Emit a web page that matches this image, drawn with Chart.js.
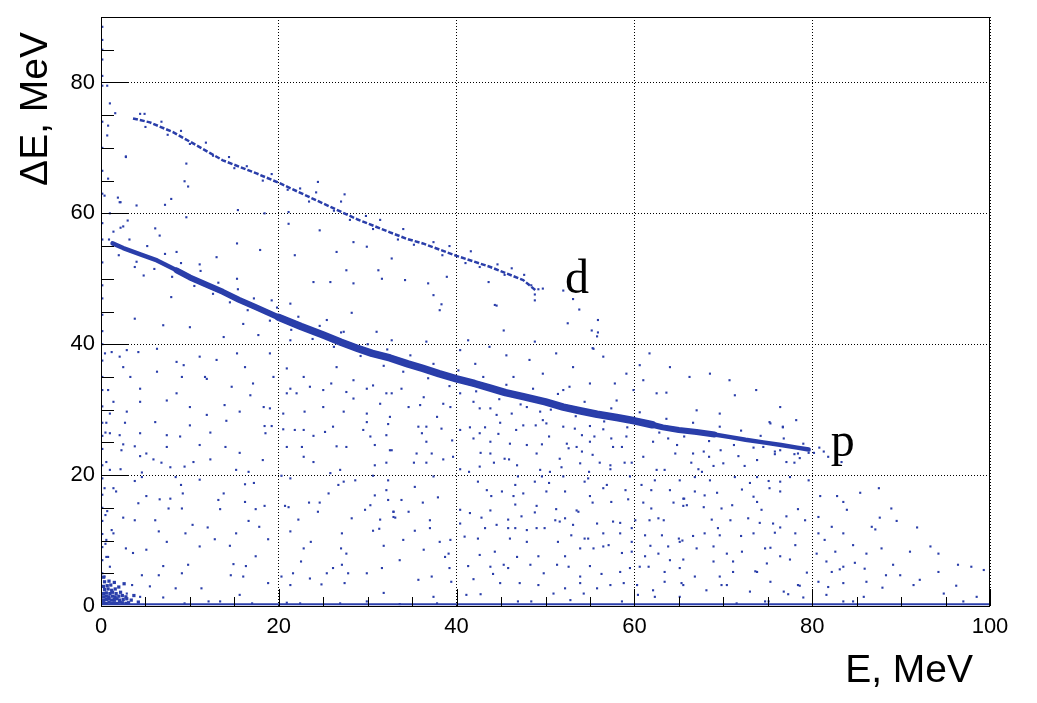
<!DOCTYPE html>
<html>
<head>
<meta charset="utf-8">
<script src="https://cdn.jsdelivr.net/npm/chart.js@4.4.1/dist/chart.umd.min.js"></script>
<style>
  html, body { margin: 0; padding: 0; background: #fff; }
</style>
</head>
<body>
<canvas id="chart" width="1037" height="703"></canvas>
<script>
// ΔE-E identification plot (ROOT style)

const xTicks = [0, 20, 40, 60, 80, 100];
const yTicks = [0, 20, 40, 60, 80];

// proton band centre line
const pBandE  = [1.3, 2.5, 4.5, 6.3, 8.5, 10, 12, 13.7, 15.5, 17.5, 20, 22.5, 25, 27, 28.8, 30.5, 32.5, 34.5, 36.2, 38, 40, 42, 43.8, 45.5, 47.5, 50, 52, 54, 55.8, 58, 60, 62, 63.2, 65, 67, 69, 70.8, 72.5, 74.5, 76.5, 78.3, 79.6];
const pBandDE = [55.4, 54.7, 53.7, 52.8, 51.3, 50.2, 49.0, 48.0, 46.8, 45.6, 44.1, 42.7, 41.4, 40.3, 39.4, 38.6, 37.9, 37.0, 36.3, 35.5, 34.7, 34.0, 33.3, 32.6, 32.0, 31.2, 30.4, 29.8, 29.3, 28.8, 28.3, 27.7, 27.3, 26.9, 26.6, 26.2, 25.8, 25.4, 25.0, 24.6, 24.2, 23.9];

// deuteron band centre line
const dBandE  = [3.6, 5.5, 8.1, 11, 13.7, 17.5, 20.1, 25, 28.8, 32.5, 34.4, 36.2, 40, 43.8, 47.5, 49];
const dBandDE = [74.5, 73.9, 72.4, 70.2, 68.1, 66.1, 64.6, 61.5, 59.1, 57.1, 56.1, 55.4, 53.5, 51.8, 49.8, 48.1];

// row of counts at ΔE ~ 0
const baseRowE  = [0, 100];
const baseRowDE = [0.25, 0.25];

// single bins around the bands
const pFringe = [[1.4,57.2],[0.9,56.0],[2.2,57.8],[2.0,53.6],[3.2,56.0],[4.0,52.6],[5.2,55.0],[6.0,51.5],[7.2,53.8],[8.0,50.3],[9.0,52.4],[10.5,48.9],[11.2,51.2],[12.6,47.7],[13.2,49.4],[14.5,46.4],[15.4,48.4],[16.5,45.2],[17.2,47.0],[19.0,43.6],[19.8,45.6],[21.4,42.2],[22.2,44.2],[23.8,40.8],[24.6,42.8],[26.2,39.6],[27.0,41.8],[29.2,38.2],[30.0,40.0],[31.8,36.7],[32.2,39.2],[34.0,35.8],[34.8,38.3],[36.8,34.8],[37.4,37.0],[39.2,33.6],[40.2,36.0],[42.2,32.8],[43.0,35.0],[44.8,31.6],[45.6,33.8],[47.2,30.8],[48.6,33.2],[50.6,30.0],[51.4,32.4],[53.4,29.0],[54.4,31.2],[56.6,28.2],[57.4,30.2],[59.2,27.3],[60.6,29.6],[62.8,26.5],[63.6,28.6],[65.6,25.9],[66.6,28.0],[68.4,25.2],[69.6,27.4],[71.2,24.6],[72.0,26.8],[73.4,24.2],[74.2,26.0],[75.8,23.6],[76.8,25.6],[78.0,23.2],[79.0,24.8],[80.2,23.4],[80.8,24.2],[81.3,23.6],[78.6,22.6],
  [66.6,23.3],[67.8,23.6],[68.4,22.8],[69.7,23.8],[71.7,22.9],[75.8,23.2],[76.4,23.8],[77.1,22.0],[78.0,21.9],[78.4,23.3],[79.6,23.4],[74.5,24.3]];

const dFringe = [[4.4,75.2],[5.0,73.2],[6.8,74.0],[7.5,72.0],[9.0,72.6],[10.0,70.6],[11.8,70.8],[12.6,68.8],[14.4,68.6],[15.0,66.9],[16.4,67.2],[18.2,65.0],[19.2,66.0],[21.0,63.6],[22.4,63.8],[23.4,61.8],[24.2,63.2],[26.2,60.4],[27.0,61.8],[28.0,59.0],[29.8,59.6],[30.6,57.6],[31.4,59.0],[33.4,56.0],[34.0,57.6],[35.2,55.2],[37.4,55.6],[38.4,53.6],[39.2,55.0],[41.0,52.4],[41.6,54.2],[42.6,51.8],[44.6,52.2],[45.4,50.6],[46.2,51.6],[47.6,50.6],[48.4,49.0],[48.8,47.6],[49.2,48.4]];

// background bins, ΔE above 40
const noiseHigh = [[4.9,75.2],[2.8,68.6],[9.6,67.6],[9.4,64.9],[9.8,64.1],[7.9,62.2],[7.2,61.3],[4.0,61.2],[2.2,61.7],[9.6,59.4],[15.4,60.5],[18.4,60.0],[21.1,60.2],[24.4,64.8],[27.4,62.9],[24.6,57.4],[38.9,50.3],[44.3,46.0],[38.3,46.1],[28.2,44.8],[8.5,54.1],[36.8,49.3],[43.6,49.5],[48.8,46.7],
  [2.5,58.0],[6.1,57.7],[6.6,56.6],[15.3,55.4],[17.9,54.4],[21.1,58.4],[28.4,55.6],[29.9,54.9],[26.5,54.1],[21.8,53.6],[27.6,51.3],[25.8,49.5],[31.2,51.3],[31.6,50.0],[32.7,53.1],[34.2,49.8],[37.4,47.5],[38.1,45.2],[44.5,45.9],[28.4,49.3],[23.9,49.5],[21.3,46.2],[19.2,46.7],[15.3,50.0],[13.0,53.3],[11.1,52.2],[3.8,51.8],[4.8,50.5],[7.9,47.2],[3.8,43.9],[7.0,42.9],[10.0,42.6],[13.8,41.1],[16.0,43.1],[17.7,41.4],[21.3,40.6],[23.1,42.1],[25.4,43.7],[27.3,41.9],[31.0,41.9],[32.7,40.6],[36.6,40.4],[41.3,40.6],[45.3,42.1],[48.8,40.4],
  [49.7,48.5],[52.0,48.2],[53.1,46.9],[53.8,45.3],[52.5,43.2],[55.9,43.7],[55.2,42.1],[55.9,41.8],[55.8,41.2],[55.3,39.4]];

// background bins, ΔE 28..40
const noiseMid = [[1.2,38.8],[2.9,39.1],[6.3,39.3],[9.3,36.8],[11.9,34.7],[16.2,36.5],[16.8,32.2],[19.0,38.6],[19.4,35.0],[20.9,36.3],[22.8,35.0],[25.0,33.0],[26.5,36.5],[28.4,34.5],[30.6,33.7],[25.0,30.4],[22.9,29.7],[20.9,32.5],[19.0,30.2],[13.9,30.7],[8.5,32.5],[4.4,31.2],[3.3,35.0],[0.8,33.0],[1.0,29.4],[28.4,31.7],[31.4,30.9],[32.7,32.5],[34.6,30.4],[36.3,31.9],[38.5,30.9],[40.4,32.5],[42.6,30.2],[44.5,29.2],[37.8,28.9],[32.5,28.9],[49.4,29.7],
  [0.45,38.6],[2.1,38.1],[4.2,38.8],[8.5,37.3],[11.1,38.1],[13.0,37.6],[15.3,38.6],[2.5,36.5],[6.3,35.8],[9.1,35.0],[11.7,35.0],[14.7,33.5],[17.1,34.0],[21.3,33.2],[22.0,32.5],[23.5,33.5],[25.9,34.0],[27.6,32.7],[29.9,33.2],[32.1,32.5],[33.8,33.2],[35.9,30.7],[39.3,30.4],[41.9,31.2],[43.8,30.2],[46.2,29.4],[47.9,30.4],[4.4,33.2],[7.4,31.4],[10.0,30.4],[11.9,29.2],[15.6,29.7],[18.3,30.4],[20.5,29.4],[27.3,29.7],[29.9,29.4],[1.4,31.2],[2.9,29.7],
  [60.6,36.8],[62.5,32.5],[63.6,32.6],[68.5,35.5],[71.3,32.2],[75.2,28.1],[76.7,27.3],[57.8,34.0],[59.9,33.0],[59.1,35.5],[53.1,36.5],[49.7,35.5],[43.7,39.6],[42.1,37.0],[55.4,39.3],[52.0,33.0],[49.7,28.4],
  [40.4,39.1],[45.6,38.3],[48.2,37.6],[51.2,38.6],[56.5,38.1],[61.7,38.6],[64.0,36.5],[66.2,35.0],[70.7,34.5],[73.7,33.0],[76.4,30.4],[78.2,28.4],[61.0,34.5],[58.0,31.4],[55.0,34.0],[52.7,33.5],[46.4,35.0],[69.6,29.4],[67.0,29.9]];

// background bins, ΔE below 28, E 0..33
const noiseLowLeft = [[0.6,28.0],[2.7,28.0],[6.1,28.1],[10.0,27.6],[14.1,28.3],[18.4,27.5],[19.2,27.5],[20.5,27.0],[21.8,26.9],[22.8,26.9],[26.1,27.4],[29.9,28.1],[32.3,27.8],[1.0,26.4],[2.1,26.1],[4.4,26.4],[7.4,26.1],[8.9,25.9],[12.3,26.5],[18.5,26.4],[23.9,26.0],[25.2,26.6],[29.5,26.9],[30.3,25.9],[32.1,26.1],
  [2.5,24.7],[3.8,24.4],[7.4,24.3],[11.1,24.6],[14.0,24.3],[20.9,24.3],[22.6,24.3],[26.5,24.4],[27.6,24.3],[30.8,24.6],[32.5,23.8],[2.3,23.8],[4.4,22.9],[5.1,23.3],[5.9,22.4],[6.8,21.9],[9.4,21.3],[10.4,22.0],[12.3,22.4],[15.6,23.4],[18.2,22.3],[22.8,22.8],[23.9,22.0],[26.9,20.8],[30.8,21.5],[32.1,21.9],[1.0,20.8],[2.2,20.9],[4.6,20.4],[7.8,21.2],[15.2,20.8],[16.6,20.5],[20.3,19.9],[25.8,20.3],[30.6,19.9],
  [4.6,19.7],[8.4,19.7],[11.1,19.3],[16.2,18.6],[17.2,18.8],[21.3,19.5],[27.3,19.0],[28.6,19.2],[32.3,19.2],[1.4,18.0],[3.8,19.1],[9.0,18.5],[26.7,18.5],[32.1,17.7],[1.7,17.5],[5.1,16.8],[6.6,16.3],[7.8,16.4],[9.2,17.2],[13.2,16.2],[13.8,17.2],[16.2,15.9],[20.7,15.3],[23.4,15.8],[24.6,15.8],[25.6,17.2],[30.3,15.4],[30.8,16.9],[32.3,16.2],[32.9,14.4],
  [4.2,15.7],[7.6,14.9],[9.1,14.9],[13.4,14.8],[17.4,14.8],[18.4,15.3],[21.1,15.1],[24.4,14.4],[29.7,14.7],[32.9,13.6],[0.5,13.9],[2.5,13.5],[3.8,13.1],[6.1,13.1],[10.3,12.4],[12.0,12.0],[16.6,13.0],[17.8,12.1],[22.2,13.2],[28.2,13.4],[31.4,13.2],[1.2,11.6],[1.4,11.1],[6.5,11.4],[9.5,11.1],[12.8,10.2],[15.2,11.1],[18.8,10.2],[21.3,11.4],[23.6,9.8],[27.1,11.1],[30.6,11.5],[31.3,11.8],
  [0.6,10.1],[2.8,8.8],[5.1,8.6],[7.4,9.8],[11.1,9.1],[14.5,9.2],[17.4,7.6],[22.8,8.8],[27.0,8.8],[27.6,8.0],[31.8,9.2],[0.6,7.5],[3.6,8.1],[7.0,6.1],[9.8,6.3],[14.9,6.4],[16.3,6.1],[22.5,6.8],[26.1,5.8],[27.1,6.3],[31.6,5.8],[1.0,6.0],[4.6,4.7],[6.5,4.7],[9.1,5.0],[14.6,4.7],[16.0,4.5],[20.3,4.5],[21.6,5.0],[23.5,4.2],[25.4,5.0],[27.8,5.0],[29.9,5.0],
  [3.5,3.2],[5.5,3.0],[8.4,2.7],[11.3,2.7],[15.6,1.7],[18.8,3.5],[21.3,3.2],[24.8,3.3],[27.4,3.5],[31.8,2.0],[2.9,1.9],[4.4,1.4],[7.0,1.3],[9.4,0.4],[12.1,0.7],[13.4,0.7],[17.0,0.4],[20.9,0.5],[22.4,0.4],[26.9,0.4],[29.9,0.7]];

// background bins, ΔE below 28, E 33..66
const noiseLowCentre = [[35.7,27.4],[36.6,27.4],[38.3,27.1],[40.4,26.9],[41.5,27.3],[43.2,27.3],[44.9,28.0],[46.7,26.9],[47.5,27.6],[48.9,27.6],[50.1,27.9],[52.0,27.4],[53.3,27.1],[55.0,27.5],[56.5,27.0],[36.1,26.4],[42.6,26.4],[44.7,26.3],[50.4,25.9],[54.1,26.1],[55.5,25.9],[57.4,25.6],[59.1,25.9],
  [36.6,25.1],[39.5,25.3],[41.9,25.6],[43.8,25.1],[46.0,24.8],[47.9,24.6],[49.6,24.7],[52.4,24.8],[53.5,24.3],[55.0,25.1],[57.6,24.3],[58.6,24.3],[62.1,25.1],[63.8,25.6],[64.8,24.6],[32.7,23.8],[35.5,23.3],[37.2,23.3],[39.6,22.8],[42.7,23.4],[43.8,23.3],[45.4,22.5],[49.0,23.3],[51.6,22.5],[52.6,24.1],[54.1,23.6],[55.3,23.1],[56.1,21.9],[57.3,21.5],[58.9,21.9],[59.7,21.9],[61.0,22.8],[62.5,20.8],[63.4,20.8],[64.6,23.3],
  [35.2,21.9],[36.6,21.9],[38.5,22.4],[40.4,20.9],[41.4,20.5],[42.6,21.3],[44.2,21.9],[45.9,22.4],[46.8,21.5],[49.4,20.8],[50.5,20.5],[51.8,21.2],[53.9,21.8],[54.9,20.5],[57.3,20.9],
  [37.4,19.8],[46.9,19.8],[49.6,19.8],[52.0,19.8],[54.8,19.5],[59.5,19.8],[62.3,19.2],[65.1,19.2],[35.3,18.2],[42.4,19.0],[46.6,18.5],[48.8,19.0],[50.4,18.8],[54.4,19.0],[56.9,18.5],[60.8,18.5],[43.4,17.7],[45.1,17.5],[46.4,16.8],[47.5,17.2],[50.1,17.5],[52.2,17.5],[55.0,16.8],[56.5,18.0],[59.0,17.7],[61.9,17.7],[64.0,17.7],[65.5,16.4],
  [33.8,16.2],[36.2,15.8],[37.9,16.6],[43.9,16.8],[46.6,15.5],[49.0,15.3],[51.2,14.8],[53.5,14.6],[55.3,15.8],[57.4,15.9],[59.3,16.3],[61.0,15.8],[61.9,14.9],[64.4,15.8],[65.9,15.4],[32.9,14.4],[34.6,14.4],[37.0,13.1],[40.4,14.7],[41.5,14.2],[42.8,13.5],[43.8,14.6],[45.8,13.2],[47.3,13.7],[48.8,14.3],[51.1,13.1],[52.2,13.4],[53.7,14.4],[55.8,12.6],[57.6,12.9],[58.4,12.7],[60.1,13.1],[61.7,13.1],[62.7,13.4],[63.3,13.1],
  [33.1,13.5],[35.3,11.5],[37.0,11.9],[40.4,12.6],[43.2,11.9],[44.5,12.4],[45.8,11.9],[46.6,11.9],[47.9,11.6],[49.0,11.9],[49.9,11.9],[51.6,12.9],[53.1,12.4],[54.4,10.3],[56.5,11.1],[58.4,11.1],[59.7,11.9],[61.2,10.8],[63.1,10.8],[65.0,10.3],
  [34.0,10.1],[38.1,9.8],[39.3,10.1],[40.9,10.6],[42.4,10.3],[46.0,10.3],[47.9,9.8],[51.4,9.8],[52.9,10.8],[54.8,10.3],[57.1,9.3],[59.7,9.8],[61.8,9.2],[63.8,9.1],[65.1,9.8],[36.3,8.6],[39.1,8.0],[42.6,7.8],[44.3,8.3],[46.8,7.5],[49.2,7.6],[52.2,7.6],[53.9,8.8],[55.4,8.8],[56.5,9.1],[58.6,8.1],[59.7,8.3],[61.2,7.6],[62.7,8.0],[64.0,7.0],
  [33.6,7.0],[38.7,7.5],[39.2,5.8],[41.3,6.1],[43.8,6.0],[45.3,6.3],[45.8,5.8],[48.3,6.3],[49.8,5.0],[51.3,6.3],[52.6,6.0],[53.9,4.5],[55.0,6.1],[56.3,4.9],[58.4,5.2],[59.5,5.8],[60.6,6.0],[61.6,6.0],[63.4,5.2],[65.1,5.8],
  [35.7,4.0],[37.2,4.5],[39.4,3.7],[41.9,4.1],[44.1,4.9],[44.9,3.5],[47.1,3.5],[49.2,3.2],[52.2,2.7],[53.9,3.5],[55.8,2.7],[57.3,3.2],[58.8,3.5],[60.3,3.2],[62.1,2.4],[63.4,3.7],[65.5,3.2],[37.4,1.4],[41.1,1.7],[42.7,1.8],[46.9,0.7],[48.4,0.7],[50.9,1.9],[52.8,0.9],[54.3,1.9],[58.6,0.7],[60.4,1.7],[62.3,1.4],[65.1,1.4],[33.6,0.3],[37.8,0.4]];

// background bins, ΔE below 28, E 66..100
const noiseLowRight = [[75.3,27.9],[76.7,27.4],[66.4,21.9],[67.2,20.9],[67.6,20.5],[68.9,21.4],[70.0,21.8],[72.4,21.4],[73.8,22.3],[81.8,22.8],[83.3,22.0],
  [66.8,19.7],[68.5,19.2],[71.3,19.7],[73.0,18.8],[73.8,19.7],[75.1,19.1],[76.4,19.0],[77.5,19.7],[79.6,19.2],[66.8,17.5],[67.9,16.9],[69.3,17.3],[72.1,17.8],[73.4,16.7],[75.2,18.0],[76.4,17.5],
  [65.6,16.4],[67.8,15.1],[69.8,14.9],[71.0,15.4],[73.8,15.9],[74.3,14.7],[77.1,13.7],[78.4,14.8],[65.5,15.3],[68.7,13.2],[69.4,11.9],[70.8,13.1],[72.8,13.4],[74.1,12.7],[75.6,12.6],[76.4,12.0],[79.2,13.1],
  [66.6,10.7],[67.9,11.1],[69.6,10.8],[72.0,10.7],[73.4,11.1],[75.8,11.2],[78.1,11.1],[65.4,10.0],[67.0,8.8],[68.9,9.1],[70.4,8.0],[72.1,8.3],[74.7,8.8],[75.3,8.9],[76.4,7.6],[78.1,9.3],
  [65.5,7.1],[68.9,6.8],[71.1,6.8],[73.8,5.2],[74.9,6.5],[77.5,7.1],[79.4,5.1],[66.8,4.5],[69.6,4.5],[71.1,5.2],[73.6,5.3],[65.3,3.5],[68.1,2.4],[69.8,3.2],[70.4,3.2],[73.0,2.2],[75.3,3.7],[76.8,2.2],[78.4,3.2],[78.6,3.1],[71.5,0.4],[75.1,0.7],[74.7,0.7],[77.3,1.8],[79.0,1.3],
  [80.9,16.8],[82.8,16.8],[83.5,15.9],[85.4,17.3],[87.5,18.0],[83.9,14.7],[88.9,14.9],[80.7,13.6],[82.2,12.1],[87.6,13.5],[89.5,13.0],[91.8,12.0],[80.7,11.1],[81.4,10.1],[83.5,11.1],[86.7,12.1],[87.1,11.7],
  [80.5,8.0],[82.6,8.3],[84.6,9.3],[86.1,8.0],[87.8,8.8],[91.0,8.3],[93.3,9.1],[94.2,8.0],[81.6,6.8],[83.5,6.0],[84.8,6.6],[89.1,6.3],[96.4,6.3],[97.9,6.0],[82.2,5.2],[83.1,5.6],[85.9,5.7],[88.3,4.7],[89.9,4.7],[92.1,4.0],[94.2,5.2],
  [80.7,3.7],[81.8,2.9],[83.5,3.5],[86.1,3.7],[87.9,2.8],[91.4,3.2],[96.2,3.1],[81.6,1.7],[83.5,0.7],[84.6,0.7],[85.8,1.4],[94.8,1.9],[97.0,0.7],[99.3,5.5],[98.5,1.4]];

// bins hugging the E = 0 edge
const edgeColumn = [[0.15,88.5],[0.15,86.5],[0.15,85],[0.15,83.5],[0.15,81],[0.15,79.5],[0.15,74],[0.15,70],[0.15,66.5],[0.15,63],[0.15,58.5],[0.15,56],[0.15,52.5],[0.15,49],[0.15,47],[0.15,44.5],[0.15,42],[0.15,40],[0.15,37.5],[0.15,35],[0.15,33],[0.15,30.5],[0.15,28],[0.15,26],[0.15,24],[0.15,21.5],[0.15,19.5],[0.15,17],[0.15,15],[0.15,13],[0.15,11],[0.15,9],[0.15,7],[0.15,5],[0.15,3],
  [0.7,79.5],[1.0,76.8],[1.6,75.3],[0.8,73.4],[0.7,71.9],[2.8,68.7],[0.8,65.3],[0.4,62.7],[1.9,62.4],[2.1,61.7],[1.0,60.0],[3.0,58.9],
  [0.5,26.5],[0.6,22],[0.4,18],[0.7,14.5],[0.5,9.5],[0.8,7.5],[0.4,4.5]];

// dense low-energy corner
const cornerCluster = [[0.3,0.5],[0.6,0.4],[0.9,0.6],[1.2,0.4],[1.5,0.5],[1.8,0.4],[2.1,0.6],[2.4,0.5],[2.8,0.4],[3.1,0.5],
  [0.3,0.9],[0.6,1.0],[0.9,1.1],[1.2,0.9],[1.5,1.0],[1.8,1.1],[2.1,0.9],[2.5,1.0],[2.9,1.1],
  [0.3,1.4],[0.6,1.5],[0.9,1.4],[1.3,1.5],[1.6,1.4],[2.0,1.5],[2.4,1.6],[2.8,1.4],
  [0.3,1.9],[0.6,2.0],[1.0,1.9],[1.3,2.1],[1.7,1.9],[2.2,2.1],
  [0.4,2.5],[0.8,2.6],[1.2,2.4],[1.6,2.6],[0.3,3.0],[0.7,3.1],[1.1,3.2],[2.0,2.9],
  [0.4,3.7],[0.9,3.8],[3.4,0.9],[3.7,1.6],[4.2,0.6],[1.5,3.6],[0.3,4.4],[2.6,3.4]];

const bandLabels = [
  { text: 'd', e: 52.2, de: 47.8 },
  { text: 'p', e: 82.1, de: 22.9 }
];

const BLUE = 'rgb(42,62,170)';
const toXY = (xs, ys) => xs.map((x, i) => ({ x: x, y: ys[i] }));
const pairs = arr => arr.map(p => ({ x: p[0], y: p[1] }));
const slice = (pts, lo, hi) => pts.filter(p => p.x >= lo && p.x <= hi);

const pBand = toXY(pBandE, pBandDE);

// ROOT-like frame, inward ticks, titles and band labels
const rootFrame = {
  id: 'rootFrame',
  afterDraw(chart) {
    const { ctx, chartArea: a, scales: { x, y } } = chart;
    ctx.save();
    ctx.strokeStyle = '#000';
    ctx.lineWidth = 1;
    ctx.strokeRect(a.left + 0.5, a.top + 0.5, a.right - a.left - 1, a.bottom - a.top);

    ctx.beginPath();
    for (let v = 0; v <= 100; v += 5) {
      const px = Math.round(x.getPixelForValue(v)) + 0.5;
      ctx.moveTo(px, a.bottom);
      ctx.lineTo(px, a.bottom - (v % 20 === 0 ? 17 : 9));
    }
    for (let v = 0; v <= 90; v += 5) {
      const py = Math.round(y.getPixelForValue(v)) + 0.5;
      ctx.moveTo(a.left, py);
      ctx.lineTo(a.left + (v % 20 === 0 ? 27 : 13), py);
    }
    ctx.stroke();

    ctx.fillStyle = '#000';
    ctx.font = '39px "Liberation Sans", Arial, sans-serif';
    ctx.textAlign = 'right';
    ctx.textBaseline = 'alphabetic';
    ctx.fillText('E, MeV', 973, 682);

    ctx.save();
    ctx.translate(47, 32);
    ctx.rotate(-Math.PI / 2);
    ctx.fillText('ΔE, MeV', 0, 0);
    ctx.restore();

    ctx.font = '48px "Liberation Serif", "Times New Roman", serif';
    ctx.textAlign = 'left';
    bandLabels.forEach(l => {
      ctx.fillText(l.text, x.getPixelForValue(l.e), y.getPixelForValue(l.de));
    });
    ctx.restore();
  }
};

const axisCommon = {
  type: 'linear',
  grid: { color: '#000', lineWidth: 1, drawTicks: false },
  border: { display: false, dash: [1, 2] },
  ticks: {
    color: '#000',
    font: { family: '"Liberation Sans", Arial, sans-serif', size: 22 },
    maxRotation: 0,
    autoSkip: false
  }
};

const binStyle = { pointStyle: 'rect', borderWidth: 0, backgroundColor: BLUE };
const bandStyle = { type: 'line', borderColor: BLUE, borderCapStyle: 'round', borderJoinStyle: 'round', pointRadius: 0 };

new Chart(document.getElementById('chart'), {
  data: {
    datasets: [
      Object.assign({}, bandStyle, { data: toXY(baseRowE, baseRowDE), borderWidth: 2, borderCapStyle: 'butt' }),
      // proton band: full length, then wider denser middle parts
      Object.assign({}, bandStyle, { data: pBand, borderWidth: 4.5 }),
      Object.assign({}, bandStyle, { data: slice(pBand, 8, 70), borderWidth: 6 }),
      Object.assign({}, bandStyle, { data: slice(pBand, 20, 62), borderWidth: 7.5 }),
      Object.assign({}, bandStyle, {
        data: toXY(dBandE, dBandDE),
        borderWidth: 2.5,
        borderDash: [5, 2],
        borderCapStyle: 'butt'
      }),
      Object.assign({
        type: 'scatter',
        data: [].concat(pairs(pFringe), pairs(dFringe), pairs(noiseHigh), pairs(noiseMid),
                        pairs(noiseLowLeft), pairs(noiseLowCentre), pairs(noiseLowRight), pairs(edgeColumn)),
        pointRadius: 1.5
      }, binStyle),
      Object.assign({
        type: 'scatter',
        data: pairs(cornerCluster),
        pointRadius: 2.3
      }, binStyle)
    ]
  },
  options: {
    responsive: false,
    animation: false,
    events: [],
    layout: { padding: { top: 17, right: 47, left: 0, bottom: 0 } },
    plugins: { legend: { display: false }, tooltip: { enabled: false } },
    scales: {
      x: Object.assign({}, axisCommon, {
        min: 0, max: 100,
        ticks: Object.assign({}, axisCommon.ticks, { padding: 8 }),
        afterBuildTicks: s => { s.ticks = xTicks.map(v => ({ value: v })); },
        afterFit: s => { s.height = 97; s.paddingLeft = 0; s.paddingRight = 0; }
      }),
      y: Object.assign({}, axisCommon, {
        min: 0, max: 90,
        ticks: Object.assign({}, axisCommon.ticks, { padding: 6 }),
        afterBuildTicks: s => { s.ticks = yTicks.map(v => ({ value: v })); },
        afterFit: s => { s.width = 101; s.paddingTop = 0; s.paddingBottom = 0; }
      })
    }
  },
  plugins: [rootFrame]
});
</script>
</body>
</html>
